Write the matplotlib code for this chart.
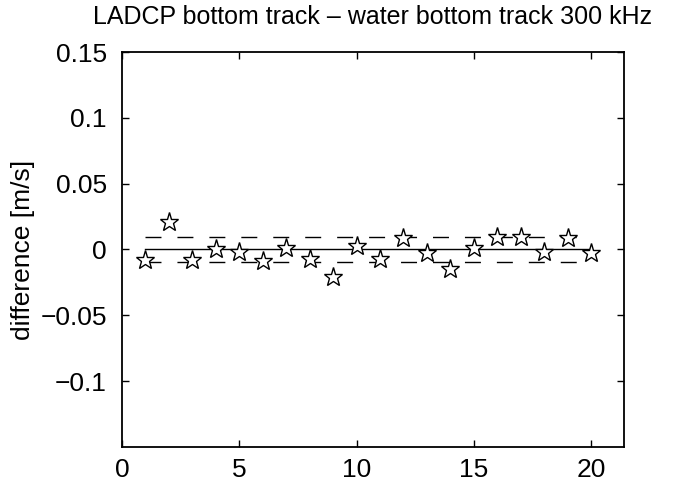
import matplotlib.pyplot as plt
import numpy as np

plt.rcParams['font.family'] = ['Liberation Sans', 'DejaVu Sans']

# station number and difference [m/s]
station = np.arange(1, 21)
diff = [-0.008, 0.021, -0.008, 0.0, -0.002, -0.009, 0.001, -0.007, -0.021, 0.003,
        -0.007, 0.009, -0.003, -0.015, 0.001, 0.0095, 0.0095, -0.002, 0.009, -0.003]
band = 0.0095

fig = plt.figure(figsize=(6.8, 4.9), dpi=100)
ax = fig.add_axes([122/680, 1-447/490, (624-122)/680, (447-52)/490])

ax.plot([1, 20], [0, 0], 'k-', lw=1)
ax.plot([1, 20], [band, band], 'k--', lw=1, dashes=(11.5, 11.5))
ax.plot([1, 20], [-band, -band], 'k--', lw=1, dashes=(11.5, 11.5))
ax.plot(station, diff, '*', ms=14, mfc='white', mec='k', mew=1)

ax.set_xlim(0, 21.4)
ax.set_ylim(-0.15, 0.15)
ax.set_xticks([0, 5, 10, 15, 20])
ax.set_yticks([-0.1, -0.05, 0, 0.05, 0.1, 0.15])
ax.set_yticklabels(['\u22120.1', '\u22120.05', '0', '0.05', '0.1', '0.15'])
for s in ax.spines.values():
    s.set_linewidth(1.3)
ax.tick_params(direction='in', top=True, right=True, labelsize=19, length=5, width=1)
ax.tick_params(axis='y', pad=11)
ax.tick_params(axis='x', pad=8)
ax.set_ylabel('difference [m/s]', fontsize=19, labelpad=4)
ax.set_title('LADCP bottom track \u2013 water bottom track 300 kHz', fontsize=18, pad=20)

fig.savefig('out.png')
